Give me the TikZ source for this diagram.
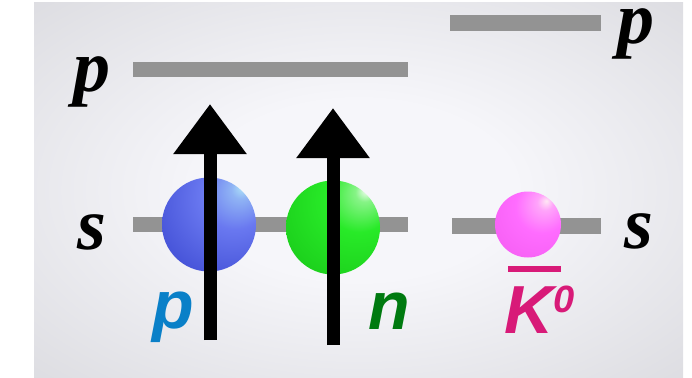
\documentclass[tikz,border=0pt]{standalone}
\usepackage{fontspec}
\setmainfont{Liberation Serif}
\newfontfamily\labelsans{Liberation Sans}
\usetikzlibrary{arrows.meta}

% colours
\definecolor{levelgray}{RGB}{147,147,147}
\definecolor{bginner}{RGB}{246,246,250}
\definecolor{bgouter}{RGB}{206,206,211}
\definecolor{protonlabel}{RGB}{10,128,200}
\definecolor{neutronlabel}{RGB}{0,122,16}
\definecolor{kaonlabel}{RGB}{216,26,120}
\definecolor{bhi}{RGB}{175,228,248}
\definecolor{bmid}{RGB}{105,120,240}
\definecolor{bdark}{RGB}{40,52,196}
\definecolor{ghi}{RGB}{250,255,250}
\definecolor{gmid}{RGB}{40,234,40}
\definecolor{gdark}{RGB}{18,186,18}
\definecolor{phi}{RGB}{255,232,244}
\definecolor{pmid}{RGB}{255,108,255}
\definecolor{pdark}{RGB}{238,84,234}

% shadings
\pgfdeclareradialshading{bgshade}{\pgfpoint{0bp}{0bp}}{color(0bp)=(bginner); color(12bp)=(bginner); color(50bp)=(bgouter); color(75bp)=(bgouter)}
\pgfdeclareradialshading{blueball}{\pgfpoint{18bp}{20bp}}{color(0bp)=(bhi); color(5bp)=(bhi!55!bmid); color(18bp)=(bmid); color(58bp)=(bdark); color(80bp)=(bdark)}
\pgfdeclareradialshading{greenball}{\pgfpoint{18bp}{20bp}}{color(0bp)=(ghi); color(5bp)=(ghi!45!gmid); color(18bp)=(gmid); color(58bp)=(gdark); color(80bp)=(gdark)}
\pgfdeclareradialshading{pinkball}{\pgfpoint{14bp}{18bp}}{color(0bp)=(phi); color(6bp)=(phi!45!pmid); color(20bp)=(pmid); color(58bp)=(pdark); color(80bp)=(pdark)}

\tikzset{
  level/.style={fill=levelgray, inner sep=0pt, minimum height=15.5pt},
  orbital/.style={font=\fontsize{74pt}{74pt}\selectfont\bfseries\itshape, inner sep=0pt},
  particle/.style={font=\labelsans\fontsize{68pt}{68pt}\selectfont\bfseries\itshape, inner sep=0pt},
  ball/.style={circle, inner sep=0pt, shade, shading=#1},
  spin/.style={line width=13pt, -{Triangle[length=50pt, width=70pt]}}
}

\begin{document}
\begin{tikzpicture}[x=1pt, y=-1pt]
  \useasboundingbox (0,0) rectangle (692,377);
  % backdrop
  \shade[shading=bgshade] (34,3) rectangle (683,377);

  % energy levels
  \node[level, minimum width=275pt] (pleft)  at (270.5,69.5) {};
  \node[level, minimum width=151pt] (pright) at (525.5,23)   {};
  \node[level, minimum width=275pt] (sleft)  at (270.5,224.5) {};
  \node[level, minimum width=149pt] (sright) at (526.5,226)  {};

  % orbital labels
  \node[orbital] (lp) at (92,82)  {p};
  \node[orbital] (ls) at (92,232) {s};
  \node[orbital] (rp) at (636,34) {p};
  \node[orbital] (rs) at (639,231) {s};

  % nucleons and kaon
  \node[ball=blueball,  minimum size=94pt] (proton)  at (209,224.5) {};
  \node[ball=greenball, minimum size=94pt] (neutron) at (333,227.5) {};
  \node[ball=pinkball,  minimum size=66pt] (kaon)    at (528,224.5) {};

  % spins
  \coordinate (s1a) at (210,340);
  \coordinate (s1b) at (210,104);
  \coordinate (s2a) at (333,345);
  \coordinate (s2b) at (333,108);
  \draw[spin] (s1a) -- (s1b);
  \draw[spin] (s2a) -- (s2b);

  % particle labels
  \node[particle, text=protonlabel]  (lproton)  at (173,317) {p};
  \node[particle, text=neutronlabel] (lneutron) at (389,311) {n};
  \node[particle, text=kaonlabel, anchor=base west] (lkaon) at (504,333)
    {K\raisebox{21pt}{\fontsize{38pt}{38pt}\selectfont 0}};
  \draw[kaonlabel, line width=6pt] (508,269) -- (561,269);
\end{tikzpicture}
\end{document}
